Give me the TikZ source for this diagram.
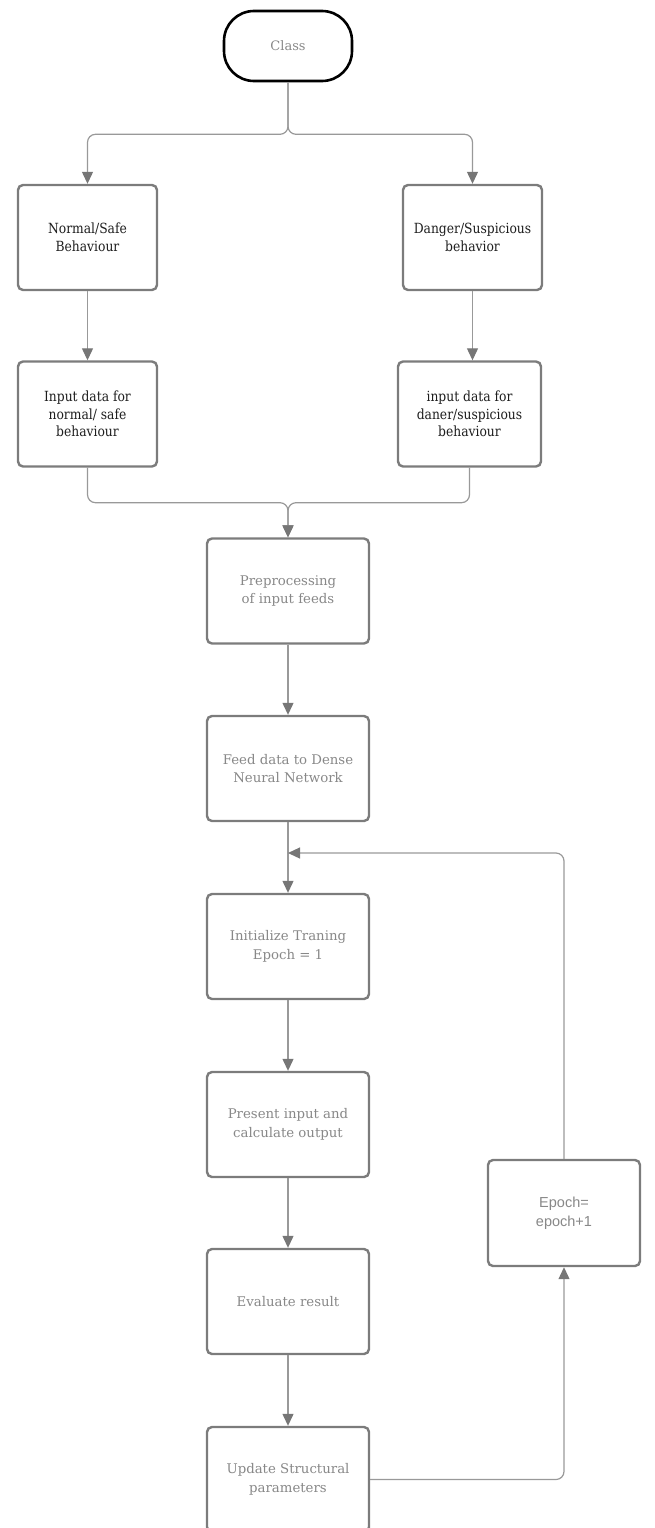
\documentclass[tikz,border=0pt]{standalone}
\usepackage{fontspec}
\setmainfont{DejaVu Serif}
\newfontfamily\condserif[FakeStretch=0.88]{DejaVu Serif}
\newfontfamily\epsans{Liberation Sans}
\usetikzlibrary{arrows.meta}
\definecolor{boxline}{HTML}{7C7C7C}
\definecolor{connline}{HTML}{999999}
\definecolor{tipcol}{HTML}{767676}
\definecolor{graytext}{HTML}{888888}
\definecolor{darktext}{HTML}{1E1E1E}
\tikzset{
  box/.style={draw=boxline, line width=2.4pt, rounded corners=5pt, fill=white,
    align=center, inner sep=2pt},
  grayb/.style={box, minimum width=162pt, minimum height=105pt,
    font=\fontsize{13.3}{18.5}\selectfont, text=graytext},
  darkb/.style={box, minimum height=105pt,
    font=\condserif\fontsize{14}{17.5}\selectfont, text=darktext},
  conn/.style={draw=connline, line width=1.2pt, rounded corners=8pt,
    -{Triangle[length=12pt, width=11pt, color=tipcol]}},
}
\begin{document}
\begin{tikzpicture}[x=1pt, y=-1pt]
\useasboundingbox (0,0) rectangle (654,1528);
\node[draw=black, line width=2.6pt, rounded corners=30pt, minimum width=128pt,
  minimum height=70pt, font=\fontsize{13}{16}\selectfont, text=graytext]
  (cls) at (288,46) {Class};

\node[darkb, minimum width=139pt] (nrm) at (87.5,237.5) {Normal/Safe\\Behaviour};
\node[darkb, minimum width=139pt] (dng) at (472.5,237.5) {Danger/Suspicious\\behavior};
\node[darkb, minimum width=139pt] (inn) at (87.5,414) {Input data for\\normal/ safe\\behaviour};
\node[darkb, minimum width=143pt] (ind) at (469.5,414) {input data for\\daner/suspicious\\behaviour};

\node[grayb] (pre) at (288,591) {Preprocessing\\of input feeds};
\node[grayb] (feed) at (288,768.5) {Feed data to Dense\\Neural Network};
\node[grayb] (init) at (288,946.5) {Initialize Traning\\Epoch = 1};
\node[grayb] (pres) at (288,1124.5) {Present input and\\calculate output};
\node[grayb] (eval) at (288,1301.5) {Evaluate result};
\node[grayb] (upd) at (288,1479.5) {Update Structural\\parameters};

\node[box, minimum width=152pt, minimum height=106pt,
  font=\epsans\fontsize{14.5}{19}\selectfont, text=graytext]
  (ep) at (564,1213) {Epoch=\\epoch+1};

\coordinate (loopj) at (288,853);

\draw[conn] (cls.south) -- ++(0,52) -| (nrm.north);
\draw[conn] (cls.south) -- ++(0,52) -| (dng.north);
\draw[conn] (nrm) -- (inn);
\draw[conn] (dng.south) -- (dng.south |- inn.north);
\draw[conn] (inn.south) -- ++(0,35) -| (pre.north);
\draw[conn] (ind.south) -- ++(0,35) -| (pre.north);
\draw[conn] (pre) -- (feed);
\draw[conn] (feed) -- (init);
\draw[conn] (init) -- (pres);
\draw[conn] (pres) -- (eval);
\draw[conn] (eval) -- (upd);
\draw[conn] (upd.east) -| (ep.south);
\draw[conn] (ep.north) |- (loopj);
\end{tikzpicture}
\end{document}
